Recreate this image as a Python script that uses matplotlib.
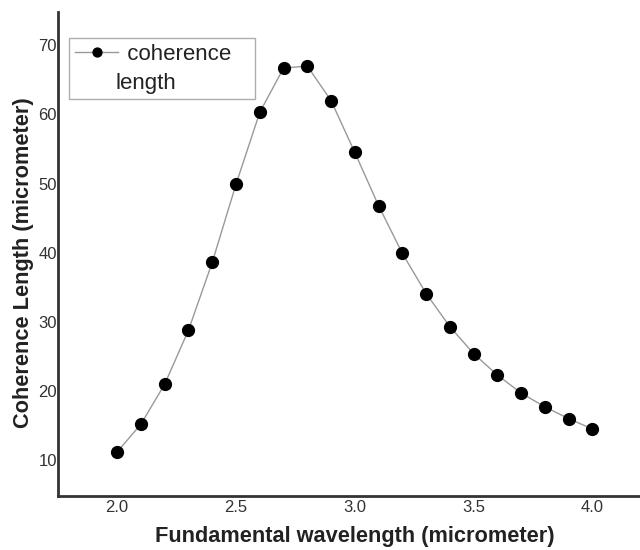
import matplotlib
matplotlib.use("Agg")
import matplotlib.pyplot as plt
from matplotlib.lines import Line2D
import numpy as np

plt.rcParams['font.family'] = ['Liberation Sans', 'DejaVu Sans']

# fundamental wavelength (micrometer) and coherence length (micrometer)
wavelength = [2.0, 2.1, 2.2, 2.3, 2.4, 2.5, 2.6, 2.7, 2.8, 2.9, 3.0,
              3.1, 3.2, 3.3, 3.4, 3.5, 3.6, 3.7, 3.8, 3.9, 4.0]
coherence = [11.2, 15.2, 21.0, 28.8, 38.6, 49.9, 60.3, 66.7, 67.0, 62.0, 54.5,
             46.8, 39.9, 34.1, 29.3, 25.4, 22.3, 19.7, 17.7, 16.0, 14.5]
xticks = [2.0, 2.5, 3.0, 3.5, 4.0]
yticks = [10, 20, 30, 40, 50, 60, 70]

fig = plt.figure(figsize=(6.4, 5.5), dpi=100)
ax = fig.add_axes([0.091, 0.098, 0.909, 0.88])

line, = ax.plot(wavelength, coherence, color='#999999', lw=1.0, marker='o',
                markersize=8.5, markerfacecolor='black', markeredgecolor='black')

ax.set_xlim(1.752, 4.20)
ax.set_ylim(4.8, 74.8)
ax.set_xticks(xticks)
ax.set_xticklabels(['%.1f' % v for v in xticks])
ax.set_yticks(yticks)
ax.tick_params(length=0, labelsize=12, labelcolor='#333333', pad=3)
ax.tick_params(axis='y', pad=1)

for s in ['top', 'right']:
    ax.spines[s].set_visible(False)
for s in ['left', 'bottom']:
    ax.spines[s].set_linewidth(2)
    ax.spines[s].set_color('#333333')

ax.set_xlabel('Fundamental wavelength (micrometer)', fontsize=15.7,
              fontweight='bold', color='#222222')
ax.set_ylabel('Coherence Length (micrometer)', fontsize=15.7,
              fontweight='bold', color='#222222')
ax.xaxis.set_label_coords(0.51, -0.062)
ax.yaxis.set_label_coords(-0.041, 0.483)

# legend label wraps onto a second line, like the original
blank = Line2D([], [], color='none')
leg = ax.legend([line, blank], ['  coherence   ', 'length'],
                loc='upper left', bbox_to_anchor=(0.019, 0.946), fontsize=16,
                frameon=True, fancybox=False, handlelength=1.95,
                handletextpad=-0.13, borderpad=0.25, borderaxespad=0,
                labelspacing=0.35, markerscale=0.75)
leg.get_frame().set_edgecolor('#999999')
leg.get_frame().set_linewidth(1.0)
for t in leg.get_texts():
    t.set_color('#222222')

fig.savefig('out.png', dpi=100)
